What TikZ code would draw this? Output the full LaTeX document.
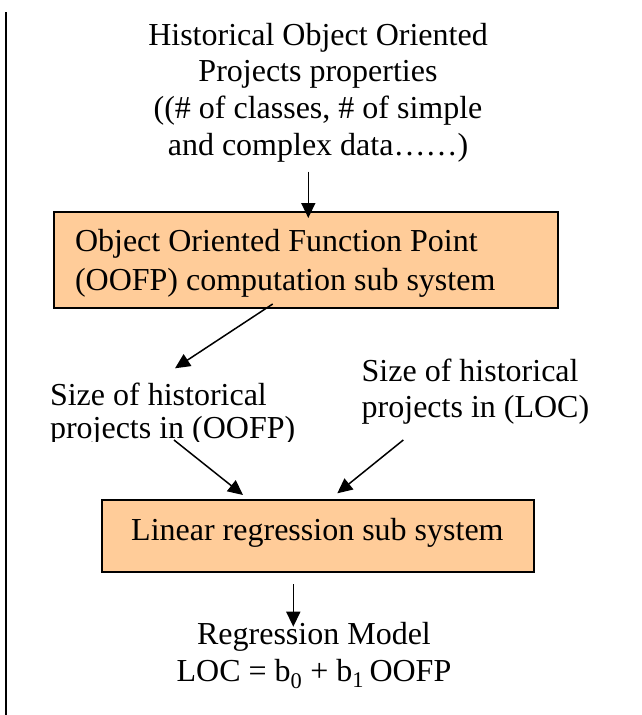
\documentclass[tikz,border=0pt]{standalone}
\usepackage{fontspec}
\setmainfont{Liberation Serif}
\usetikzlibrary{arrows.meta}
\definecolor{peach}{RGB}{255,204,153}
\tikzset{
  txt/.style={font=\fontsize{32}{36}\selectfont, inner sep=0pt, outer sep=0pt},
  procbox/.style={draw=black, line width=2pt, fill=peach, inner sep=0pt},
  flow/.style={line width=1.5pt, -{Triangle[length=15pt,width=14pt]}},
}
\begin{document}
\begin{tikzpicture}[x=1pt, y=1pt]
\useasboundingbox (0,0) rectangle (641,-715);

% margin rule on the left
\coordinate (ruletop) at (6,-12);
\coordinate (rulebot) at (6,-715);
\draw[line width=2.5pt] (ruletop) -- (rulebot);

% input description
\node[txt, anchor=base] (in1) at (318,-45) {Historical Object Oriented};
\node[txt, anchor=base] (in2) at (318,-81.7) {Projects properties};
\node[txt, anchor=base] (in3) at (318,-118.3) {((\# of classes, \# of simple};
\node[txt, anchor=base] (in4) at (318,-155) {and complex data……)};

% OOFP computation box
\node[procbox, minimum width=504pt, minimum height=96pt] (oofp) at (306,-259.7) {};
\node[txt, anchor=base west] (oofp1) at (75,-251.7) {Object Oriented Function Point};
\node[txt, anchor=base west] (oofp2) at (75,-290) {(OOFP) computation sub system};

% intermediate sizes
\begin{scope}
  \clip (0,-330) rectangle (330,-441.5);
  \node[txt, anchor=base west] (sz1) at (50,-405) {Size of historical};
  \node[txt, anchor=base west] (sz2) at (50,-438.3) {projects in (OOFP)};
\end{scope}
\node[txt, anchor=base west] (loc1) at (361.7,-381.7) {Size of historical};
\node[txt, anchor=base west] (loc2) at (361.7,-417.3) {projects in (LOC)};

% regression box
\node[procbox, minimum width=432.5pt, minimum height=71.7pt] (reg) at (317.75,-535.85) {};
\node[txt, anchor=base] (regt) at (317.4,-540) {Linear regression sub system};

% output model
\node[txt, anchor=base] (out1) at (314,-644) {Regression Model};
\node[txt, anchor=base] (out2) at (314,-681.7) {LOC = b\textsubscript{0} + b\textsubscript{1}\,OOFP};

% connector end points
\coordinate (a1s) at (308.3,-171.7);
\coordinate (a1e) at (308.3,-218);
\coordinate (a2s) at (272.7,-304);
\coordinate (a2e) at (175,-368.3);
\coordinate (a3s) at (174,-440);
\coordinate (a3e) at (243,-495);
\coordinate (a4s) at (403.3,-440);
\coordinate (a4e) at (337.3,-493.3);
\coordinate (a5s) at (293.3,-584);
\coordinate (a5e) at (293.3,-626.7);

\draw[flow] (a1s) -- (a1e);
\draw[flow] (a2s) -- (a2e);
\draw[flow] (a3s) -- (a3e);
\draw[flow] (a4s) -- (a4e);
\draw[flow] (a5s) -- (a5e);
\end{tikzpicture}
\end{document}
